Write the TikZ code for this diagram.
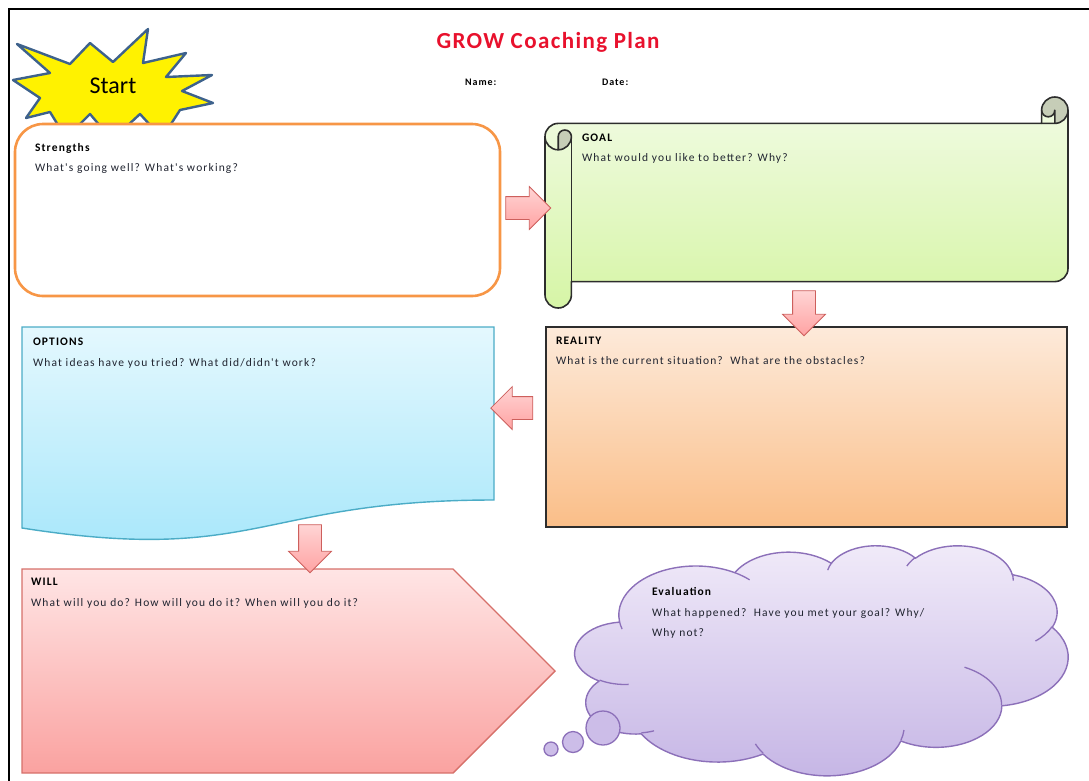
\documentclass[tikz,border=0pt]{standalone}
\usepackage{fontspec}
\setmainfont{Carlito}
\newfontfamily\spaced[LetterSpace=10]{Carlito}
\newfontfamily\titlefont[LetterSpace=6]{Carlito}
\usetikzlibrary{shapes.arrows}

\definecolor{titlered}{RGB}{232,17,45}
\definecolor{asktext}{RGB}{32,36,48}
\definecolor{starline}{RGB}{62,98,140}
\definecolor{strengthline}{RGB}{247,150,70}
\definecolor{boxline}{RGB}{45,45,45}
\definecolor{curlfill}{RGB}{198,205,183}
\definecolor{goaltop}{RGB}{241,251,228}
\definecolor{goalbot}{RGB}{214,245,166}
\definecolor{realtop}{RGB}{253,234,218}
\definecolor{realbot}{RGB}{250,190,136}
\definecolor{optline}{RGB}{75,172,198}
\definecolor{opttop}{RGB}{228,248,254}
\definecolor{optbot}{RGB}{164,230,250}
\definecolor{willline}{RGB}{214,112,106}
\definecolor{willtop}{RGB}{255,229,229}
\definecolor{willbot}{RGB}{250,162,160}
\definecolor{evalline}{RGB}{140,112,185}
\definecolor{evaltop}{RGB}{241,235,249}
\definecolor{evalbot}{RGB}{197,181,229}
\definecolor{arrowline}{RGB}{205,95,92}
\definecolor{arrowtop}{RGB}{255,212,212}
\definecolor{arrowbot}{RGB}{255,163,163}

% one puff of the cloud: wR, hR (shape units), x/y radius (pt), start and sweep angle
\newcommand\puff[6]{arc[start angle={-oot(#5,#1,#2)},delta angle={oot(#5,#1,#2)-oot(#5+#6,#1,#2)},x radius=#3pt,y radius=#4pt]}

\begin{document}
\begin{tikzpicture}[x=1pt,y=-1pt,
  declare function={oot(\a,\rx,\ry)=\a+mod(atan2(\rx*sin(\a),\ry*cos(\a))-\a+540,360)-180;},
  every node/.style={inner sep=0pt,outer sep=0pt},
  head/.style={anchor=base west,font=\fontsize{11.5}{13}\spaced\bfseries,text=black},
  ask/.style={anchor=base west,font=\fontsize{11.5}{13}\spaced,text=asktext},
  field/.style={anchor=base west,font=\fontsize{10}{12}\spaced\bfseries,text=black},
  blockarrow/.style={single arrow,draw=arrowline,line width=0.8pt,top color=arrowtop,bottom color=arrowbot,inner xsep=0pt,inner ysep=11pt,minimum height=#1,single arrow head extend=10pt,single arrow tip angle=90},
  scrollline/.style={draw=boxline,line width=1.6pt,line join=round},
  bubble/.style={circle,draw=evalline,line width=1.3pt,fill=evalbot!85!evaltop,minimum size=#1}]
\useasboundingbox (0,0) rectangle (1089,780);
% page frame
\draw[line width=1.4pt] (9,790) -- (9,9) -- (1095,9);
% title and fields
\node[anchor=base,font=\fontsize{23}{27}\titlefont\bfseries,text=titlered] (title) at (548,48) {GROW Coaching Plan};
\node[field] (name) at (465,85.5) {Name:};
\node[field] (date) at (602,85.5) {Date:};
% start burst
\draw[draw=starline,fill=yellow,line width=2.4pt,line join=round]
  (17,44) -- (70,64) -- (90,43) -- (113,62) -- (148,29) -- (143,63) -- (186,53) -- (166,77)
  -- (212,75) -- (182,91) -- (213,103) -- (180,110) -- (162,138) -- (140,114) -- (112,140)
  -- (90,114) -- (66,138) -- (50,112) -- (26,118) -- (40,98) -- (13,80) -- (50,73) -- cycle;
\node[anchor=base,font=\fontsize{24}{28}\selectfont] (start) at (113,93) {Start};
% strengths
\node[draw=strengthline,fill=white,line width=2.6pt,rounded corners=28pt,minimum width=485pt,minimum height=172pt] (strengths) at (257.5,210) {};
\node[head] (strengthsHead) at (35,151) {Strengths};
\node[ask] (strengthsAsk) at (35,171) {What's going well? What's working?};
% goal scroll
\def\scrolloutline{(545,136.6) arc[start angle=180,delta angle=-90,radius=13.2pt] -- (1041.6,123.4) -- (1041.6,110.2)
  arc[start angle=180,delta angle=-180,radius=13.2pt] -- (1068,268.4) arc[start angle=0,delta angle=-90,radius=13.2pt]
  -- (571.4,281.6) -- (571.4,294.8) arc[start angle=0,delta angle=-180,radius=13.2pt] -- cycle}
\path[top color=goaltop,bottom color=goalbot] \scrolloutline;
\fill[curlfill] (1054.8,123.4) arc[start angle=-90,delta angle=270,radius=13.2pt] arc[start angle=180,delta angle=180,radius=6.6pt] -- cycle;
\fill[curlfill] (558.2,149.8) arc[start angle=-90,delta angle=90,radius=13.2pt] arc[start angle=0,delta angle=180,radius=6.6pt] -- cycle;
\draw[scrollline] \scrolloutline;
\draw[scrollline] (1041.6,123.4) -- (1054.8,123.4) arc[start angle=-90,delta angle=90,radius=13.2pt];
\draw[scrollline] (1054.8,123.4) -- (1054.8,110.2) arc[start angle=0,delta angle=-180,radius=6.6pt];
\draw[scrollline] (558.2,149.8) -- (558.2,136.6) arc[start angle=180,delta angle=-180,radius=6.6pt] arc[start angle=0,delta angle=-180,radius=13.2pt];
\draw[scrollline] (571.4,136.6) -- (571.4,281.6);
\node[head] (goalHead) at (582,141) {GOAL};
\node[ask] (goalAsk) at (582,161) {What would you like to better? Why?};
% reality
\node[draw=boxline,line width=1.6pt,top color=realtop,bottom color=realbot,minimum width=521pt,minimum height=200pt] (reality) at (806.5,427) {};
\node[head] (realityHead) at (556,344) {REALITY};
\node[ask] (realityAsk) at (556,364) {What is the current situation?\ \ What are the obstacles?};
% options
\draw[draw=optline,line width=1.4pt,top color=opttop,bottom color=optbot] (22,327) -- (494,327) -- (494,500) .. controls (258,500) and (258,565) .. (22,528) -- cycle;
\node[head] (optionsHead) at (33,345) {OPTIONS};
\node[ask] (optionsAsk) at (33,366) {What ideas have you tried? What did/didn't work?};
% will
\draw[draw=willline,line width=1.4pt,top color=willtop,bottom color=willbot] (22,569) -- (453,569) -- (555,671) -- (453,773) -- (22,773) -- cycle;
\node[head] (willHead) at (31,585) {WILL};
\node[ask] (willAsk) at (31,606) {What will you do? How will you do it? When will you do it?};
% evaluation cloud
\draw[draw=evalline,line width=1.4pt,line join=round,top color=evaltop,bottom color=evalbot] (619.51,621.51)
  \puff{6753}{9190}{77.07}{48.93}{-190.4875}{123.7805} \puff{5333}{7267}{60.86}{38.69}{-144.1024}{89.9452}
  \puff{4365}{5945}{49.81}{31.65}{-145.8079}{99.7230} \puff{4857}{6595}{55.43}{35.11}{-130.9861}{117.2417}
  \puff{5333}{7273}{60.86}{38.72}{-78.7089}{109.0269} \puff{6775}{9220}{77.32}{49.09}{-46.2673}{130.2690}
  \puff{5785}{7867}{66.02}{41.88}{0.6250}{114.0333} \puff{6752}{9215}{77.05}{49.06}{22.4516}{115.1726}
  \puff{7720}{10543}{88.10}{56.13}{66.2426}{75.7110} \puff{4360}{5918}{49.76}{31.51}{-274.9421}{146.7356}
  \puff{4345}{5945}{49.59}{31.65}{-246.8285}{152.5189} -- cycle;
\draw[draw=evalline,line width=1.3pt]
  (628.56,684.37) \puff{4345}{5945}{49.59}{31.65}{86.7420}{26.4295}
  (654.06,730.80) \puff{4360}{5918}{49.76}{31.51}{73.6105}{11.4475}
  (763.05,753.12) \puff{6752}{9215}{77.05}{49.06}{137.6242}{14.0811}
  (903.97,730.01) \puff{6752}{9215}{77.05}{49.06}{6.4533}{15.9984}
  (964.48,667.21) \puff{5785}{7867}{66.02}{41.88}{-70.2924}{70.9174}
  (1052.0,626.74) \puff{5333}{7273}{60.86}{38.72}{30.3180}{27.7515}
  (1012.35,573.89) \puff{4857}{6595}{55.43}{35.11}{-13.7443}{14.8589}
  (906.84,566.04) \puff{4857}{6595}{55.43}{35.11}{-149.1815}{18.1954}
  (827.67,570.13) \puff{4365}{5945}{49.81}{31.65}{-163.4943}{17.6864}
  (734.77,572.64) \puff{6753}{9190}{77.07}{48.93}{-66.7070}{12.3194}
  (622.10,629.06) \puff{6753}{9190}{77.07}{48.93}{157.6544}{11.8582};
\node[bubble=34pt] (bubbleA) at (603,728) {};
\node[bubble=21pt] (bubbleB) at (573,742) {};
\node[bubble=14pt] (bubbleC) at (551,749) {};
\node[head] (evalHead) at (652,595) {Evaluation};
\node[ask] (evalAsk) at (652,616) {What happened?\ \ Have you met your goal? Why/};
\node[ask] (evalAskB) at (652,636) {Why not?};
% block arrows between the steps
\node[blockarrow=45pt] (toGoal) at (522.5,208) {};
\node[blockarrow=45pt,rotate=-90] (toReality) at (804,307.5) {};
\node[blockarrow=42pt,rotate=180] (toOptions) at (517.5,408) {};
\node[blockarrow=48pt,rotate=-90] (toWill) at (310,543) {};
\end{tikzpicture}
\end{document}
